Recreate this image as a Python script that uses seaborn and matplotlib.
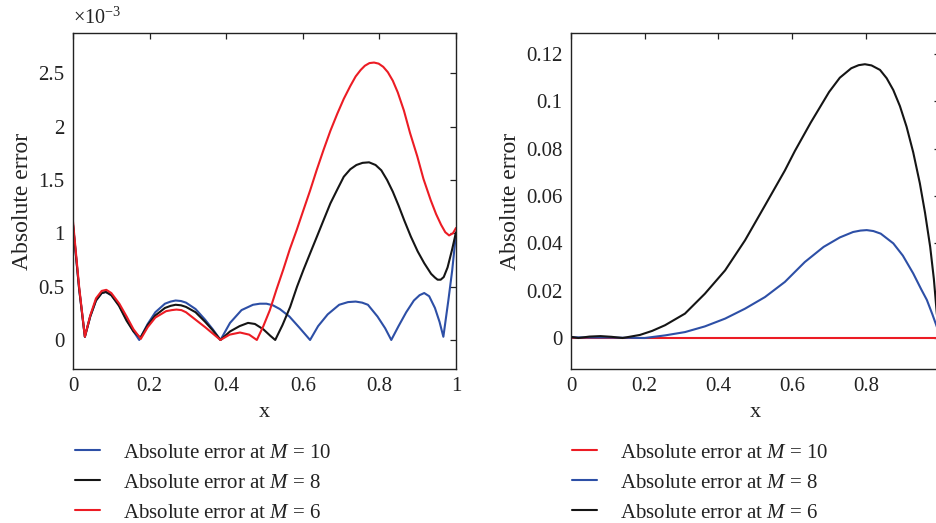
import matplotlib
matplotlib.use("Agg")
import matplotlib.pyplot as plt
from matplotlib.ticker import FuncFormatter
import seaborn as sns
import pandas as pd

# ---------------- data (left panel, values in units of 1e-3) ----------------
left_x_m10 = [0, 0.016, 0.031, 0.045, 0.06, 0.075, 0.086, 0.10, 0.12, 0.14, 0.158, 0.173,
              0.195, 0.215, 0.24, 0.255, 0.268, 0.282, 0.295, 0.32, 0.345, 0.365, 0.385,
              0.41, 0.44, 0.47, 0.488, 0.505, 0.522, 0.54, 0.565, 0.59, 0.619,
              0.64, 0.665, 0.695, 0.718, 0.738, 0.755, 0.77, 0.795, 0.815, 0.831,
              0.85, 0.87, 0.89, 0.905, 0.917, 0.93, 0.945, 0.957, 0.967, 0.98, 0.99, 1.0]
left_y_m10 = [1.08, 0.48, 0.03, 0.22, 0.37, 0.44, 0.45, 0.42, 0.33, 0.19, 0.08, 0.0,
              0.15, 0.26, 0.34, 0.36, 0.37, 0.365, 0.35, 0.29, 0.19, 0.10, 0.0,
              0.16, 0.28, 0.33, 0.34, 0.34, 0.325, 0.29, 0.22, 0.12, 0.0,
              0.13, 0.24, 0.33, 0.355, 0.36, 0.35, 0.33, 0.22, 0.11, 0.0,
              0.13, 0.26, 0.37, 0.42, 0.44, 0.41, 0.30, 0.17, 0.03, 0.37, 0.65, 1.0]

left_x_m8 = [0, 0.016, 0.031, 0.045, 0.06, 0.075, 0.086, 0.10, 0.12, 0.14, 0.158, 0.176,
             0.195, 0.215, 0.24, 0.255, 0.268, 0.282, 0.295, 0.32, 0.345, 0.365, 0.385,
             0.41, 0.435, 0.457, 0.475, 0.497, 0.515, 0.528,
             0.547, 0.567, 0.585, 0.602, 0.62, 0.637, 0.655, 0.672, 0.69, 0.707, 0.724,
             0.74, 0.756, 0.773, 0.79, 0.805, 0.82, 0.835, 0.85, 0.865, 0.882, 0.90,
             0.917, 0.935, 0.945, 0.952, 0.96, 0.968, 0.978, 0.99, 1.0]
left_y_m8 = [1.08, 0.48, 0.03, 0.22, 0.37, 0.44, 0.45, 0.42, 0.32, 0.18, 0.08, 0.02,
             0.14, 0.23, 0.30, 0.32, 0.33, 0.325, 0.31, 0.26, 0.17, 0.09, 0.0,
             0.08, 0.13, 0.16, 0.15, 0.10, 0.04, 0.0,
             0.14, 0.31, 0.50, 0.66, 0.82, 0.97, 1.13, 1.28, 1.41, 1.53, 1.60,
             1.64, 1.66, 1.665, 1.64, 1.59, 1.50, 1.39, 1.26, 1.12, 0.97, 0.83,
             0.72, 0.62, 0.585, 0.565, 0.565, 0.59, 0.68, 0.85, 1.01]

left_x_m6 = [0, 0.016, 0.031, 0.045, 0.06, 0.075, 0.087, 0.10, 0.121, 0.14, 0.158, 0.177,
             0.195, 0.215, 0.243, 0.258, 0.27, 0.283, 0.295, 0.32, 0.345, 0.365, 0.385,
             0.409, 0.436, 0.46, 0.48,
             0.497, 0.514, 0.531, 0.549, 0.566, 0.584, 0.60, 0.619, 0.636, 0.654, 0.672, 0.69,
             0.707, 0.724, 0.738, 0.751, 0.762, 0.774, 0.786, 0.798, 0.81, 0.822, 0.835,
             0.848, 0.864, 0.88, 0.899, 0.915, 0.934, 0.948, 0.961, 0.972, 0.982, 0.992, 1.0]
left_y_m6 = [1.11, 0.50, 0.03, 0.23, 0.39, 0.46, 0.47, 0.44, 0.34, 0.22, 0.10, 0.01,
             0.12, 0.21, 0.27, 0.28, 0.285, 0.28, 0.26, 0.19, 0.12, 0.06, 0.0,
             0.05, 0.07, 0.05, 0.0,
             0.13, 0.28, 0.47, 0.66, 0.85, 1.03, 1.20, 1.40, 1.59, 1.78, 1.96, 2.12,
             2.26, 2.38, 2.47, 2.53, 2.57, 2.595, 2.60, 2.59, 2.56, 2.51, 2.43,
             2.32, 2.15, 1.94, 1.72, 1.51, 1.31, 1.18, 1.08, 1.01, 0.98, 1.00, 1.05]

# ---------------- data (right panel) ----------------
right_x_m10 = [0, 0.2, 0.4, 0.6, 0.8, 1.0]
right_y_m10 = [0, 0, 0, 0, 0, 0]

right_x_m8 = [0, 0.05, 0.1, 0.15, 0.2, 0.255, 0.309, 0.363, 0.418, 0.472, 0.526, 0.58,
              0.634, 0.685, 0.729, 0.765, 0.785, 0.802, 0.82, 0.84, 0.874, 0.9, 0.928,
              0.95, 0.965, 0.98, 0.992, 1.0]
right_y_m8 = [0.0003, 0.0002, 0.0002, 0.0001, 0.0, 0.0011, 0.0025, 0.0049, 0.0082, 0.0124,
              0.0173, 0.0237, 0.0321, 0.0385, 0.0425, 0.0448, 0.0454, 0.0456, 0.0452,
              0.0441, 0.0400, 0.0348, 0.0273, 0.0205, 0.0161, 0.0100, 0.0048, 0.001]

right_x_m6 = [0, 0.02, 0.05, 0.08, 0.11, 0.14, 0.187, 0.22, 0.255, 0.309, 0.363, 0.418,
              0.472, 0.526, 0.58, 0.607, 0.65, 0.675, 0.70, 0.729, 0.76, 0.78, 0.797,
              0.815, 0.838, 0.856, 0.874, 0.892, 0.91, 0.928, 0.946, 0.96, 0.974, 0.984,
              0.992, 1.0]
right_y_m6 = [0.0005, 0.0, 0.0006, 0.0008, 0.0005, 0.0, 0.0013, 0.0030, 0.0054, 0.0103,
              0.0187, 0.0286, 0.0413, 0.0560, 0.0708, 0.0790, 0.0910, 0.0975, 0.1040,
              0.1100, 0.1140, 0.1153, 0.1157, 0.1152, 0.1133, 0.1098, 0.1048, 0.0980,
              0.0893, 0.0785, 0.0654, 0.0530, 0.0386, 0.0250, 0.0104, 0.0]

labels = ["Absolute error at $\\mathit{M}$ = 10",
          "Absolute error at $\\mathit{M}$ = 8",
          "Absolute error at $\\mathit{M}$ = 6"]
left_x_ticks = [0, 0.2, 0.4, 0.6, 0.8, 1]
right_x_ticks = [0, 0.2, 0.4, 0.6, 0.8]
left_y_ticks = [0, 0.5, 1, 1.5, 2, 2.5]
right_y_ticks = [0, 0.02, 0.04, 0.06, 0.08, 0.1, 0.12]

BLUE = "#2d4fa6"
BLACK = "#151515"
RED = "#ec1c24"
TXT = "#222222"

sns.set_style("white")
plt.rcParams["font.family"] = ["Liberation Serif", "DejaVu Serif"]
plt.rcParams["mathtext.fontset"] = "custom"
plt.rcParams["mathtext.it"] = "Liberation Serif:italic"
plt.rcParams["mathtext.rm"] = "Liberation Serif"

fig = plt.figure(figsize=(9.37, 5.23), dpi=100)
ax1 = fig.add_axes([73 / 937, 1 - 369 / 523, (456 - 73) / 937, (369 - 33) / 523])
ax2 = fig.add_axes([571 / 937, 1 - 369 / 523, 368.75 / 937, (369 - 33) / 523])

def draw(ax, xs, ys, colors):
    for x, y, c, lab in zip(xs, ys, colors, labels):
        df = pd.DataFrame({"x": x, "y": y})
        sns.lineplot(data=df, x="x", y="y", ax=ax, color=c, lw=1.5, label=lab,
                     sort=False, estimator=None)

draw(ax1, [left_x_m10, left_x_m8, left_x_m6], [left_y_m10, left_y_m8, left_y_m6],
     [BLUE, BLACK, RED])
draw(ax2, [right_x_m10, right_x_m8, right_x_m6], [right_y_m10, right_y_m8, right_y_m6],
     [RED, BLUE, BLACK])

fmt = FuncFormatter(lambda v, p: f"{v:g}")
for ax, xt in ((ax1, left_x_ticks), (ax2, right_x_ticks)):
    ax.set_xlim(0, 1)
    ax.set_xticks(xt)
    ax.xaxis.set_major_formatter(fmt)
    ax.yaxis.set_major_formatter(fmt)
    ax.tick_params(direction="in", top=True, right=True, length=4, width=0.9,
                   labelsize=15, colors=TXT, pad=6)
    for s in ax.spines.values():
        s.set_visible(True)
        s.set_linewidth(1.0)
        s.set_color(TXT)
    ax.set_xlabel("x", fontsize=16, color=TXT, labelpad=5)
    ax.set_ylabel("Absolute error", fontsize=17, color=TXT, labelpad=4)

ax1.set_ylim(-0.272, 2.877)
ax1.set_yticks(left_y_ticks)
ax2.set_ylim(-0.0131, 0.1289)
ax2.set_yticks(right_y_ticks)

ax1.text(0.0, 1.012, "×10$^{-3}$", transform=ax1.transAxes, fontsize=14.5,
         color=TXT, va="bottom", ha="left")

for ax, x0 in ((ax1, 75 / 937), (ax2, 572 / 937)):
    leg = ax.legend(loc="upper left", bbox_to_anchor=(x0, 1 - 443 / 523),
                    bbox_transform=fig.transFigure, frameon=False, fontsize=15,
                    handlelength=1.2, handletextpad=1.1, labelspacing=0.5,
                    borderaxespad=0, borderpad=0)
    for t in leg.get_texts():
        t.set_color(TXT)

fig.savefig("out.png", dpi=100)
